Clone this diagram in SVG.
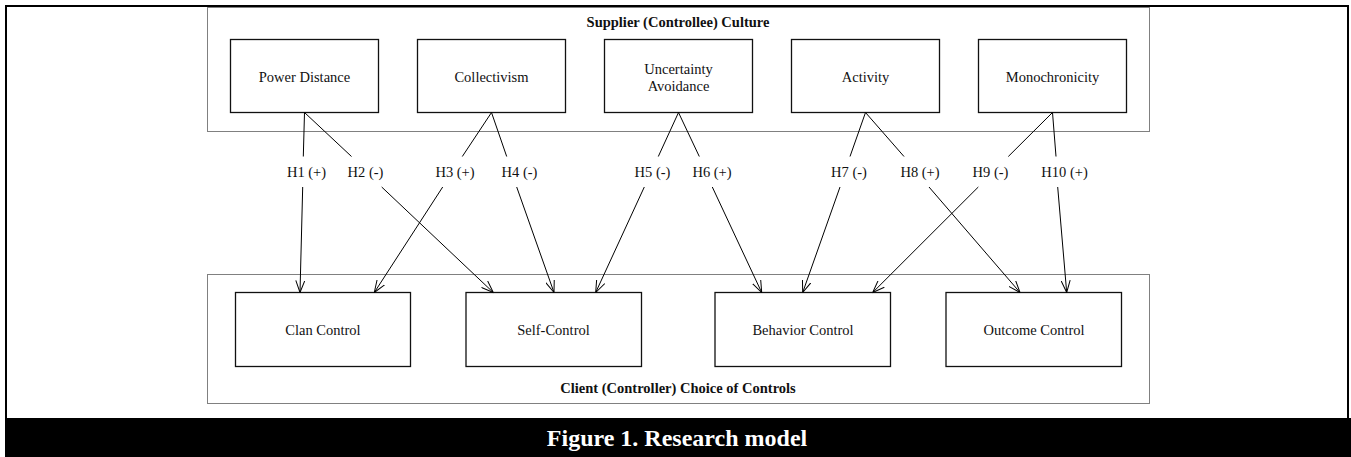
<svg xmlns="http://www.w3.org/2000/svg" width="1351" height="457" viewBox="0 0 1351 457">
  <style>
    .frame { fill: none; stroke: #000; stroke-width: 2; }
    .group { fill: none; stroke: #000; stroke-width: 1; stroke-dasharray: 1 1; }
    .node rect { fill: #fff; stroke: #111; stroke-width: 1.3; }
    .lbl { font-family: "Liberation Serif", "Times New Roman", serif; font-size: 14.5px; fill: #111; text-anchor: middle; }
    .title { font-family: "Liberation Serif", "Times New Roman", serif; font-size: 14.5px; font-weight: bold; fill: #111; text-anchor: middle; }
    .hyp { font-family: "Liberation Serif", "Times New Roman", serif; font-size: 14.5px; fill: #111; text-anchor: middle; }
    .caption { font-family: "Liberation Serif", "Times New Roman", serif; font-size: 24px; font-weight: bold; fill: #fff; text-anchor: middle; }
    .edge { fill: none; stroke: #000; stroke-width: 1; }
  </style>
  <defs>
    <marker id="arrow" viewBox="0 0 12 10" refX="12" refY="5" markerWidth="12" markerHeight="10" markerUnits="userSpaceOnUse" orient="auto">
      <path d="M0,0.5 L12,5 L0,9.5" fill="none" stroke="#000" stroke-width="1"/>
    </marker>
  </defs>

  <rect width="1351" height="457" fill="#fff"/>
  <!-- outer frame and caption band -->
  <rect class="frame" x="6" y="6" width="1342" height="420"/>
  <rect x="5" y="418" width="1346" height="39" fill="#000"/>
  <text class="caption" x="677" y="446">Figure 1. Research model</text>

  <!-- group frames -->
  <g id="supplier-culture">
    <rect class="group" x="207.5" y="7.5" width="942" height="124"/>
    <text class="title" x="678" y="27">Supplier (Controllee) Culture</text>
  </g>
  <g id="client-controls">
    <rect class="group" x="207.5" y="274.5" width="942" height="129"/>
    <text class="title" x="678" y="393">Client (Controller) Choice of Controls</text>
  </g>

  <!-- culture dimensions -->
  <g id="power-distance" class="node">
    <rect x="230.5" y="39.5" width="148" height="73"/>
    <text class="lbl" x="304.5" y="82">Power Distance</text>
  </g>
  <g id="collectivism" class="node">
    <rect x="417.5" y="39.5" width="148" height="73"/>
    <text class="lbl" x="491.5" y="82">Collectivism</text>
  </g>
  <g id="uncertainty-avoidance" class="node">
    <rect x="604.5" y="39.5" width="148" height="73"/>
    <text class="lbl" x="678.5" y="74">Uncertainty</text>
    <text class="lbl" x="678.5" y="91">Avoidance</text>
  </g>
  <g id="activity" class="node">
    <rect x="791.5" y="39.5" width="148" height="73"/>
    <text class="lbl" x="865.5" y="82">Activity</text>
  </g>
  <g id="monochronicity" class="node">
    <rect x="978.5" y="39.5" width="148" height="73"/>
    <text class="lbl" x="1052.5" y="82">Monochronicity</text>
  </g>

  <!-- control types -->
  <g id="clan-control" class="node">
    <rect x="235.5" y="292.5" width="175" height="74"/>
    <text class="lbl" x="323" y="335">Clan Control</text>
  </g>
  <g id="self-control" class="node">
    <rect x="466" y="292.5" width="175.5" height="74"/>
    <text class="lbl" x="553.5" y="335">Self-Control</text>
  </g>
  <g id="behavior-control" class="node">
    <rect x="715" y="292.5" width="175.5" height="74"/>
    <text class="lbl" x="803" y="335">Behavior Control</text>
  </g>
  <g id="outcome-control" class="node">
    <rect x="946" y="292.5" width="175.5" height="74"/>
    <text class="lbl" x="1034" y="335">Outcome Control</text>
  </g>

  <!-- hypothesis connectors: source stub, label, arrow to target -->
  <g id="connectors">
    <line class="edge" x1="304.5" y1="112.5" x2="303.3" y2="156.5"/>
    <line class="edge" x1="304.5" y1="112.5" x2="351.5" y2="156.5"/>
    <line class="edge" x1="491.5" y1="112.5" x2="462.3" y2="156.5"/>
    <line class="edge" x1="491.5" y1="112.5" x2="506.7" y2="156.5"/>
    <line class="edge" x1="678.5" y1="112.5" x2="658.3" y2="156.5"/>
    <line class="edge" x1="678.5" y1="112.5" x2="699.3" y2="156.5"/>
    <line class="edge" x1="865.5" y1="112.5" x2="850" y2="156.5"/>
    <line class="edge" x1="865.5" y1="112.5" x2="904" y2="156.5"/>
    <line class="edge" x1="1052.5" y1="112.5" x2="1008.3" y2="156.5"/>
    <line class="edge" x1="1052.5" y1="112.5" x2="1056" y2="156.5"/>

    <line class="edge" x1="302.7" y1="187" x2="300" y2="292.5" marker-end="url(#arrow)"/>
    <line class="edge" x1="381.7" y1="187" x2="493.3" y2="292.5" marker-end="url(#arrow)"/>
    <line class="edge" x1="442.7" y1="187" x2="374.3" y2="292.5" marker-end="url(#arrow)"/>
    <line class="edge" x1="516.7" y1="187" x2="554" y2="292.5" marker-end="url(#arrow)"/>
    <line class="edge" x1="644.3" y1="187" x2="595.7" y2="292.5" marker-end="url(#arrow)"/>
    <line class="edge" x1="712.3" y1="187" x2="761.7" y2="292.5" marker-end="url(#arrow)"/>
    <line class="edge" x1="840" y1="187" x2="802.7" y2="292.5" marker-end="url(#arrow)"/>
    <line class="edge" x1="929" y1="187" x2="1020" y2="292.5" marker-end="url(#arrow)"/>
    <line class="edge" x1="978.3" y1="187" x2="872.7" y2="292.5" marker-end="url(#arrow)"/>
    <line class="edge" x1="1057.7" y1="187" x2="1066.7" y2="292.5" marker-end="url(#arrow)"/>

    <text class="hyp" x="306.5" y="177">H1 (+)</text>
    <text class="hyp" x="365.5" y="177">H2 (-)</text>
    <text class="hyp" x="455" y="177">H3 (+)</text>
    <text class="hyp" x="519.5" y="177">H4 (-)</text>
    <text class="hyp" x="652.5" y="177">H5 (-)</text>
    <text class="hyp" x="712" y="177">H6 (+)</text>
    <text class="hyp" x="849" y="177">H7 (-)</text>
    <text class="hyp" x="920" y="177">H8 (+)</text>
    <text class="hyp" x="990.5" y="177">H9 (-)</text>
    <text class="hyp" x="1064.5" y="177">H10 (+)</text>
  </g>
</svg>
